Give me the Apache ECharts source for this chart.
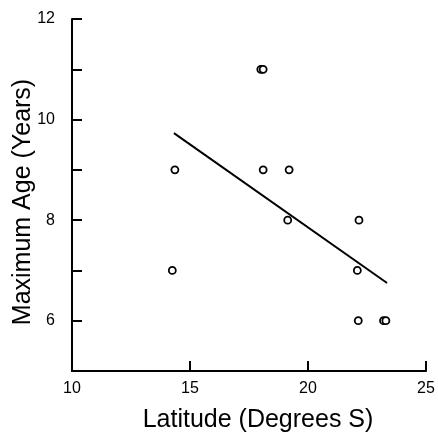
<!DOCTYPE html>
<html>
<head>
<meta charset="utf-8">
<script src="https://cdn.jsdelivr.net/npm/echarts@6/dist/echarts.min.js"></script>
<style>
html,body{margin:0;padding:0;background:#fff;}
#chart{width:438px;height:432px;}
</style>
</head>
<body>
<div id="chart"></div>
<script>
const latitude = [14.25, 14.36, 18.0, 18.1, 18.1, 19.2, 19.14, 22.16, 22.09, 22.13, 23.2, 23.3];
const maxAge   = [7, 9, 11, 11, 9, 9, 8, 8, 7, 6, 6, 6];
const fitLatitude = [14.32, 23.35];
const fitAge      = [9.73, 6.75];
const yTickLabels = [6, 8, 10, 12];
const xTickLabels = [10, 15, 20, 25];

const font = '"Liberation Sans", Arial, sans-serif';
const chart = echarts.init(document.getElementById('chart'), null, {renderer: 'canvas'});
chart.setOption({
  animation: false,
  backgroundColor: '#fff',
  grid: {left: 72, right: 12, top: 19, bottom: 61, containLabel: false, outerBoundsMode: 'none'},
  xAxis: {
    type: 'value', min: 10, max: 25, interval: 5,
    name: 'Latitude (Degrees S)', nameLocation: 'middle', nameGap: 37, nameMoveOverlap: false,
    nameTextStyle: {fontSize: 25, color: '#000', fontFamily: font, padding: [0, 0, 0, 18]},
    axisLine: {show: true, onZero: false, lineStyle: {color: '#000', width: 2}},
    axisTick: {show: true, inside: true, length: 10, lineStyle: {color: '#000', width: 2}},
    axisLabel: {color: '#000', fontSize: 16, fontFamily: font, margin: 10,
      formatter: v => xTickLabels.includes(v) ? String(v) : ''},
    splitLine: {show: false}
  },
  yAxis: {
    type: 'value', min: 5, max: 12, interval: 1,
    name: 'Maximum Age (Years)', nameLocation: 'middle', nameGap: 36, nameMoveOverlap: false,
    nameTextStyle: {fontSize: 25, color: '#000', fontFamily: font, padding: [0, 14, 0, 0]},
    axisLine: {show: true, onZero: false, lineStyle: {color: '#000', width: 2}},
    axisTick: {show: true, inside: true, length: 10, lineStyle: {color: '#000', width: 2}},
    axisLabel: {color: '#000', fontSize: 16, fontFamily: font, margin: 17, padding: [6, 0, 0, 0],
      formatter: v => yTickLabels.includes(v) ? String(v) : ''},
    splitLine: {show: false}
  },
  series: [
    {
      type: 'line',
      data: fitLatitude.map((x, i) => [x, fitAge[i]]),
      symbol: 'none',
      lineStyle: {color: '#000', width: 2},
      z: 2
    },
    {
      type: 'scatter',
      data: latitude.map((x, i) => [x, maxAge[i]]),
      symbol: 'circle',
      symbolSize: 7,
      itemStyle: {color: '#fff', borderColor: '#000', borderWidth: 1.8, opacity: 1},
      z: 3
    }
  ]
});
</script>
</body>
</html>
